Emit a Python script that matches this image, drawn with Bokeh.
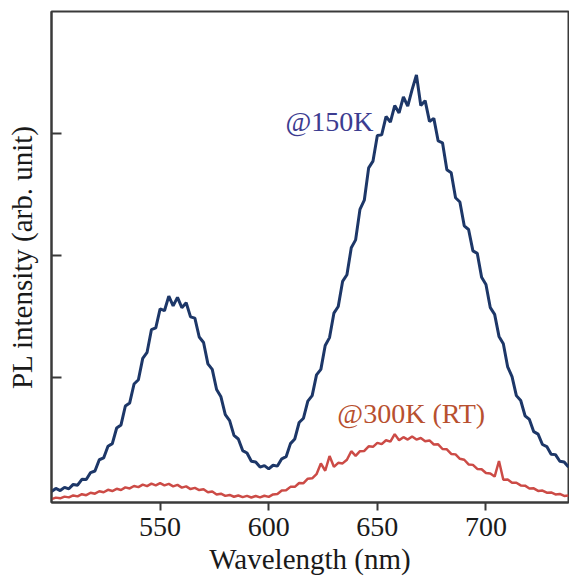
from bokeh.plotting import figure
from bokeh.models import FixedTicker, Range1d
from bokeh.core.properties import value
from bokeh.embed import file_html
from bokeh.resources import INLINE

wavelength = list(range(500, 740, 2))

pl_150k = [70, 95, 78, 104, 92, 128, 122, 170, 168, 225,
           238, 330, 345, 440, 462, 590, 615, 770, 795, 950,
           985, 1160, 1210, 1395, 1410, 1565, 1550, 1670, 1590, 1660,
           1575, 1615, 1500, 1490, 1335, 1290, 1115, 1070, 905, 845,
           700, 650, 530, 500, 405, 385, 318, 312, 270, 282,
           255, 285, 278, 338, 355, 462, 500, 635, 670, 810,
           855, 1025, 1070, 1265, 1330, 1530, 1585, 1790, 1845, 2065,
           2130, 2380, 2455, 2720, 2775, 2985, 2990, 3140, 3095, 3230,
           3170, 3300, 3225, 3360, 3480, 3230, 3270, 3100, 3125, 2940,
           2925, 2705, 2680, 2475, 2440, 2245, 2215, 2040, 2020, 1825,
           1765, 1575, 1520, 1340, 1280, 1090, 1010, 855, 815, 690,
           660, 560, 540, 455, 438, 375, 372, 318, 312, 270]

pl_300k = [8, 20, 14, 28, 22, 38, 30, 48, 40, 60,
           52, 72, 64, 84, 74, 92, 82, 104, 95, 115,
           106, 126, 114, 134, 120, 138, 120, 132, 112, 124,
           102, 112, 90, 100, 82, 88, 64, 70, 46, 52,
           34, 42, 27, 37, 24, 34, 21, 33, 22, 35,
           26, 46, 50, 78, 80, 108, 108, 140, 138, 175,
           178, 212, 300, 240, 360, 272, 305, 300, 330, 400,
           362, 400, 402, 440, 436, 468, 458, 490, 478, 540,
           490, 515, 495, 520, 495, 508, 482, 488, 455, 456,
           418, 415, 378, 374, 338, 330, 292, 288, 255, 252,
           222, 218, 192, 320, 166, 168, 142, 142, 120, 118,
           95, 96, 75, 78, 60, 62, 46, 50, 34, 38]

x_ticks = [550, 600, 650, 700]
y_ticks = [1000, 2000, 3000]

label_150k = "@150K"
label_300k = "@300K (RT)"

SERIF = "Liberation Serif"

p = figure(width=569, height=582, output_backend="svg", toolbar_location=None,
           x_range=Range1d(500, 738), y_range=Range1d(-20, 4000),
           min_border_left=51, min_border_right=1, min_border_top=11, min_border_bottom=80)

p.background_fill_color = "white"
p.border_fill_color = "white"
p.grid.visible = False
p.outline_line_color = "#3a3a3a"
p.outline_line_width = 2

p.line(wavelength, pl_150k, line_color="#1d3768", line_width=3)
p.line(wavelength, pl_300k, line_color="#cc4b46", line_width=2.5)

p.text(x=[607.7], y=[3100], text=[label_150k], text_font=value(SERIF),
       text_font_size="28px", text_color="#3c3c90", text_align="left",
       text_baseline="middle")
p.text(x=[631.6], y=[710], text=[label_300k], text_font=value(SERIF),
       text_font_size="28px", text_color="#b8502f", text_align="left",
       text_baseline="middle")

xa = p.xaxis[0]
xa.ticker = FixedTicker(ticks=x_ticks)
xa.axis_line_color = "#3a3a3a"
xa.axis_line_width = 2
xa.major_tick_in = 0
xa.major_tick_out = 8
xa.major_tick_line_width = 2
xa.major_tick_line_color = "#3a3a3a"
xa.minor_tick_line_color = None
xa.major_label_text_font = SERIF
xa.major_label_text_font_size = "28px"
xa.major_label_text_color = "#1a1a1a"
xa.major_label_standoff = 7
xa.axis_label = "Wavelength (nm)"
xa.axis_label_text_font = SERIF
xa.axis_label_text_font_size = "29px"
xa.axis_label_text_font_style = "normal"
xa.axis_label_text_color = "#1a1a1a"
xa.axis_label_standoff = 4

ya = p.yaxis[0]
ya.ticker = FixedTicker(ticks=y_ticks)
ya.axis_line_color = "#3a3a3a"
ya.axis_line_width = 2
ya.major_tick_in = 10
ya.major_tick_out = 0
ya.major_tick_line_width = 2
ya.major_tick_line_color = "#3a3a3a"
ya.minor_tick_line_color = None
ya.major_label_overrides = {t: "" for t in y_ticks}
ya.major_label_standoff = 0
ya.axis_label = "PL intensity (arb. unit)"
ya.axis_label_text_font = SERIF
ya.axis_label_text_font_size = "29px"
ya.axis_label_text_font_style = "normal"
ya.axis_label_text_color = "#1a1a1a"
ya.axis_label_standoff = 14

open("out.html", "w").write(file_html(p, INLINE))
